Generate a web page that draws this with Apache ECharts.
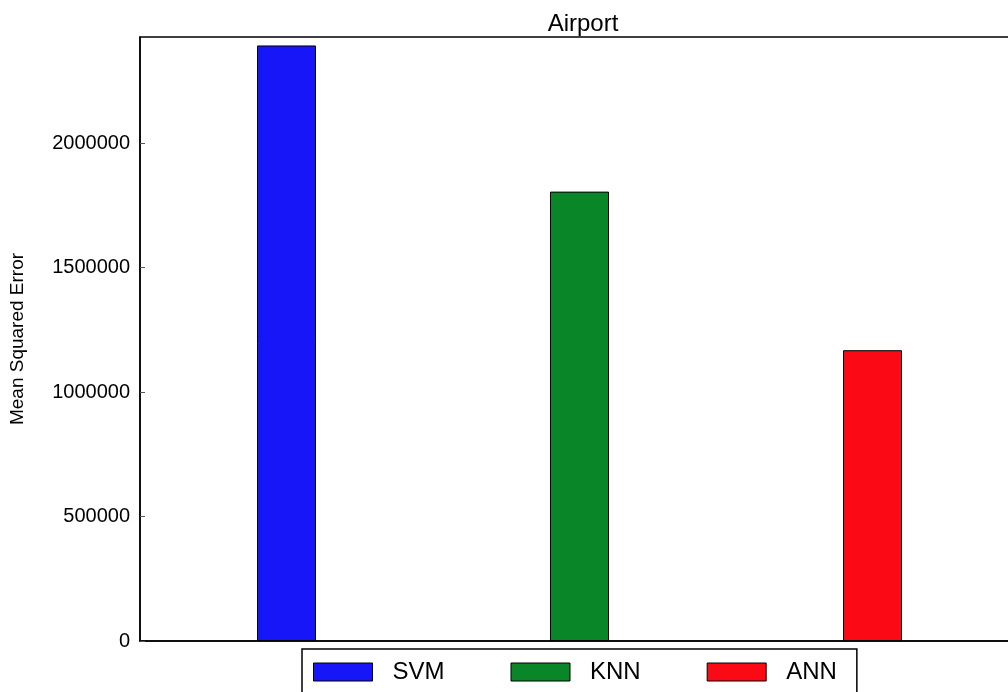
<!DOCTYPE html>
<html>
<head>
<meta charset="utf-8">
<script src="https://cdn.jsdelivr.net/npm/echarts@6/dist/echarts.min.js"></script>
<style>
  html, body { margin: 0; padding: 0; background: #fff; }
  #chartBox { width: 1008px; height: 692px; }
</style>
</head>
<body>
<div id="chartBox"></div>
<script>
// data
var methods = ["SVM", "KNN", "ANN"];
var mse = [2392000, 1805000, 1168000];
var barColors = ["#1616f8", "#098628", "#fb0a16"];
var yTicks = [0, 500000, 1000000, 1500000, 2000000];

var chart = echarts.init(document.getElementById("chartBox"));
var font = "'Liberation Sans', Arial, Helvetica, sans-serif";

// one series per method so the legend shows all three, stacked so each bar sits centred in its slot
var series = methods.map(function (name, i) {
  return {
    name: name,
    type: "bar",
    stack: "all",
    barWidth: 59,
    data: methods.map(function (m, j) { return j === i ? mse[i] : "-"; }),
    itemStyle: { color: barColors[i], borderColor: "#000", borderWidth: 1 }
  };
});

var option = {
  animation: false,
  backgroundColor: "#fff",
  title: {
    text: "Airport",
    left: 578,
    textAlign: "center",
    top: 7,
    textStyle: { fontFamily: font, fontSize: 24, fontWeight: "normal", color: "#000" }
  },
  legend: {
    data: methods,
    left: 302,
    top: 649,
    orient: "horizontal",
    itemWidth: 59,
    itemHeight: 18,
    itemGap: 66,
    padding: [11, 20, 20, 11],
    borderColor: "#000",
    borderWidth: 1.5,
    icon: "rect",
    itemStyle: { borderColor: "#000", borderWidth: 1 },
    formatter: "{t|{name}}",
    textStyle: {
      fontFamily: font, fontSize: 24, color: "#000",
      rich: { t: { fontFamily: font, fontSize: 24, color: "#000", padding: [0, 0, 0, 15] } }
    }
  },
  grid: {
    left: 140,
    top: 37,
    width: 879,
    bottom: 51,
    outerBoundsMode: "none",
    show: true,
    borderColor: "#000",
    borderWidth: 1.5
  },
  xAxis: {
    type: "category",
    data: methods,
    axisLine: { lineStyle: { color: "#000", width: 1.5 } },
    axisTick: { show: false },
    axisLabel: { show: false }
  },
  yAxis: {
    type: "value",
    min: 0,
    max: 2426000,
    name: "Mean Squared Error",
    nameLocation: "middle",
    nameRotate: 90,
    nameGap: 113,
    nameTextStyle: { fontFamily: font, fontSize: 19, color: "#000" },
    axisLine: { show: true, lineStyle: { color: "#000", width: 1.5 } },
    axisTick: { show: true, inside: true, length: 5, customValues: yTicks, lineStyle: { color: "#555" } },
    axisLabel: {
      customValues: yTicks,
      margin: 10,
      fontFamily: font,
      fontSize: 20,
      color: "#000",
      formatter: function (v) { return String(v); }
    },
    splitLine: { show: false }
  },
  series: series
};

chart.setOption(option);
</script>
</body>
</html>
